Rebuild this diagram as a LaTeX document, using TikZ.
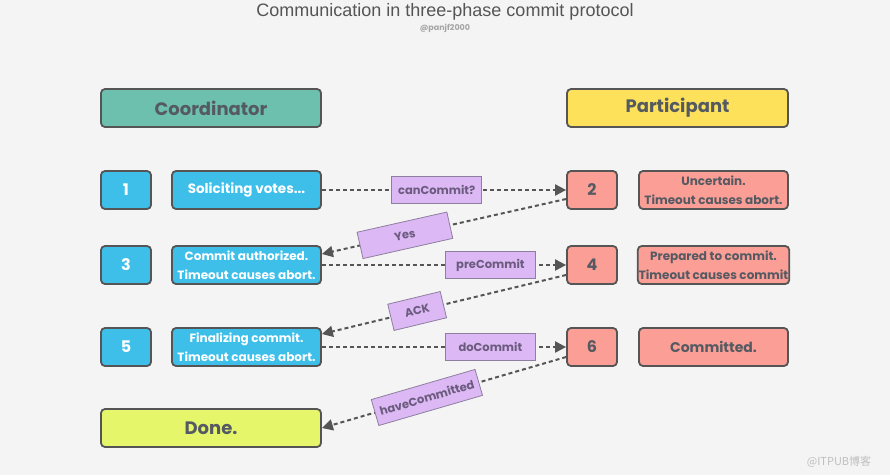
\documentclass[tikz,border=0pt]{standalone}
\usepackage{fontspec}
\setmainfont{Poppins}
\newfontfamily\titlefont{Liberation Sans}
\newfontfamily\cjkfont{Noto Sans CJK SC}
\usetikzlibrary{arrows.meta,calc}
\definecolor{bgc}{HTML}{F4F4F4}
\definecolor{edge}{HTML}{555555}
\definecolor{teal}{HTML}{6DBFAE}
\definecolor{yel}{HTML}{FDE15A}
\definecolor{blu}{HTML}{3DBFEA}
\definecolor{pnk}{HTML}{FB9E96}
\definecolor{lime}{HTML}{E5F66A}
\definecolor{purp}{HTML}{DCB8F4}
\definecolor{purpedge}{HTML}{8E7FA0}
\definecolor{purptext}{HTML}{6B5B7E}
\definecolor{darktext}{HTML}{555A62}
\definecolor{titlegray}{HTML}{555555}
\begin{document}
\begin{tikzpicture}[x=1pt,y=-1pt,
  box/.style={draw=edge, line width=1.8pt, rounded corners=4pt, minimum height=38pt,
    inner sep=1pt, align=center, font=\bfseries},
  head/.style={box, minimum width=220pt, text=darktext, font=\bfseries\fontsize{18}{21}\selectfont},
  numb/.style={box, minimum width=50pt, font=\bfseries\fontsize{16}{18}\selectfont},
  descr/.style={box, minimum width=149pt, font=\bfseries\fontsize{12}{18.5}\selectfont},
  bluebox/.style={fill=blu, text=white},
  pinkbox/.style={fill=pnk, text=darktext},
  conn/.style={draw=edge, line width=2pt, dash pattern=on 4pt off 3pt,
    -{Triangle[length=11pt,width=11pt]}},
  lab/.style={solid, fill=purp, draw=purpedge, line width=0.8pt, text=purptext,
    font=\bfseries\fontsize{11.5}{13}\selectfont, minimum height=27pt, inner sep=3pt}
]
\useasboundingbox (0,0) rectangle (890,475);
\fill[bgc] (0,0) rectangle (890,475);

\node[font=\titlefont\fontsize{18}{21}\selectfont, text=titlegray] (title) at (445,12)
  {Communication in three-phase commit protocol};
\node[font=\bfseries\fontsize{8}{9}\selectfont, text=black!35] (handle) at (445,28) {@panjf2000};
\node[font=\cjkfont\fontsize{11}{13}\selectfont, text=black!25] (wm) at (839,462) {@ITPUB博客};

\node[head, fill=teal] (coord) at (211,108) {Coordinator};
\node[head, fill=yel, minimum width=221pt] (part) at (677.5,108) {Participant};

\node[numb, bluebox] (n1) at (126,190) {1};
\node[descr, bluebox, font=\bfseries\fontsize{13.5}{16}\selectfont] (c1) at (246.5,190) {Soliciting votes...};
\node[numb, pinkbox] (n2) at (592,190) {2};
\node[descr, pinkbox] (p2) at (713.5,190) {Uncertain.\\Timeout causes abort.};

\node[numb, bluebox] (n3) at (126,265) {3};
\node[descr, bluebox] (c3) at (246.5,265) {Commit authorized.\\Timeout causes abort.};
\node[numb, pinkbox] (n4) at (592,265) {4};
\node[descr, pinkbox] (p4) at (713.5,265) {Prepared to commit.\\Timeout causes commit};

\node[numb, bluebox] (n5) at (126,347) {5};
\node[descr, bluebox] (c5) at (246.5,347) {Finalizing commit.\\Timeout causes abort.};
\node[numb, pinkbox] (n6) at (592,347) {6};
\node[descr, pinkbox, font=\bfseries\fontsize{14}{16}\selectfont] (p6) at (713.5,347) {Committed.};

\node[head, fill=lime] (done) at (211,428) {Done.};

\draw[conn] (c1.east) -- node[lab, pos=0.47, minimum width=90pt] (l1) {canCommit?} (n2.west);
\draw[conn] ([yshift=-9pt]n2.west) -- node[lab, sloped, pos=0.66, minimum width=92pt] (l2) {Yes} ([yshift=11pt]c3.east);
\draw[conn] (c3.east) -- node[lab, pos=0.69, minimum width=90pt] (l3) {preCommit} (n4.west);
\draw[conn] ([yshift=-10pt]n4.west) -- node[lab, sloped, pos=0.61, minimum width=54pt] (l4) {ACK} ([yshift=13pt]c5.east);
\draw[conn] (c5.east) -- node[lab, pos=0.69, minimum width=90pt] (l5) {doCommit} (n6.west);
\draw[conn] ([yshift=-10pt]n6.west) -- node[lab, sloped, pos=0.57, minimum width=108pt] (l6) {haveCommitted} (done.east);
\end{tikzpicture}
\end{document}
